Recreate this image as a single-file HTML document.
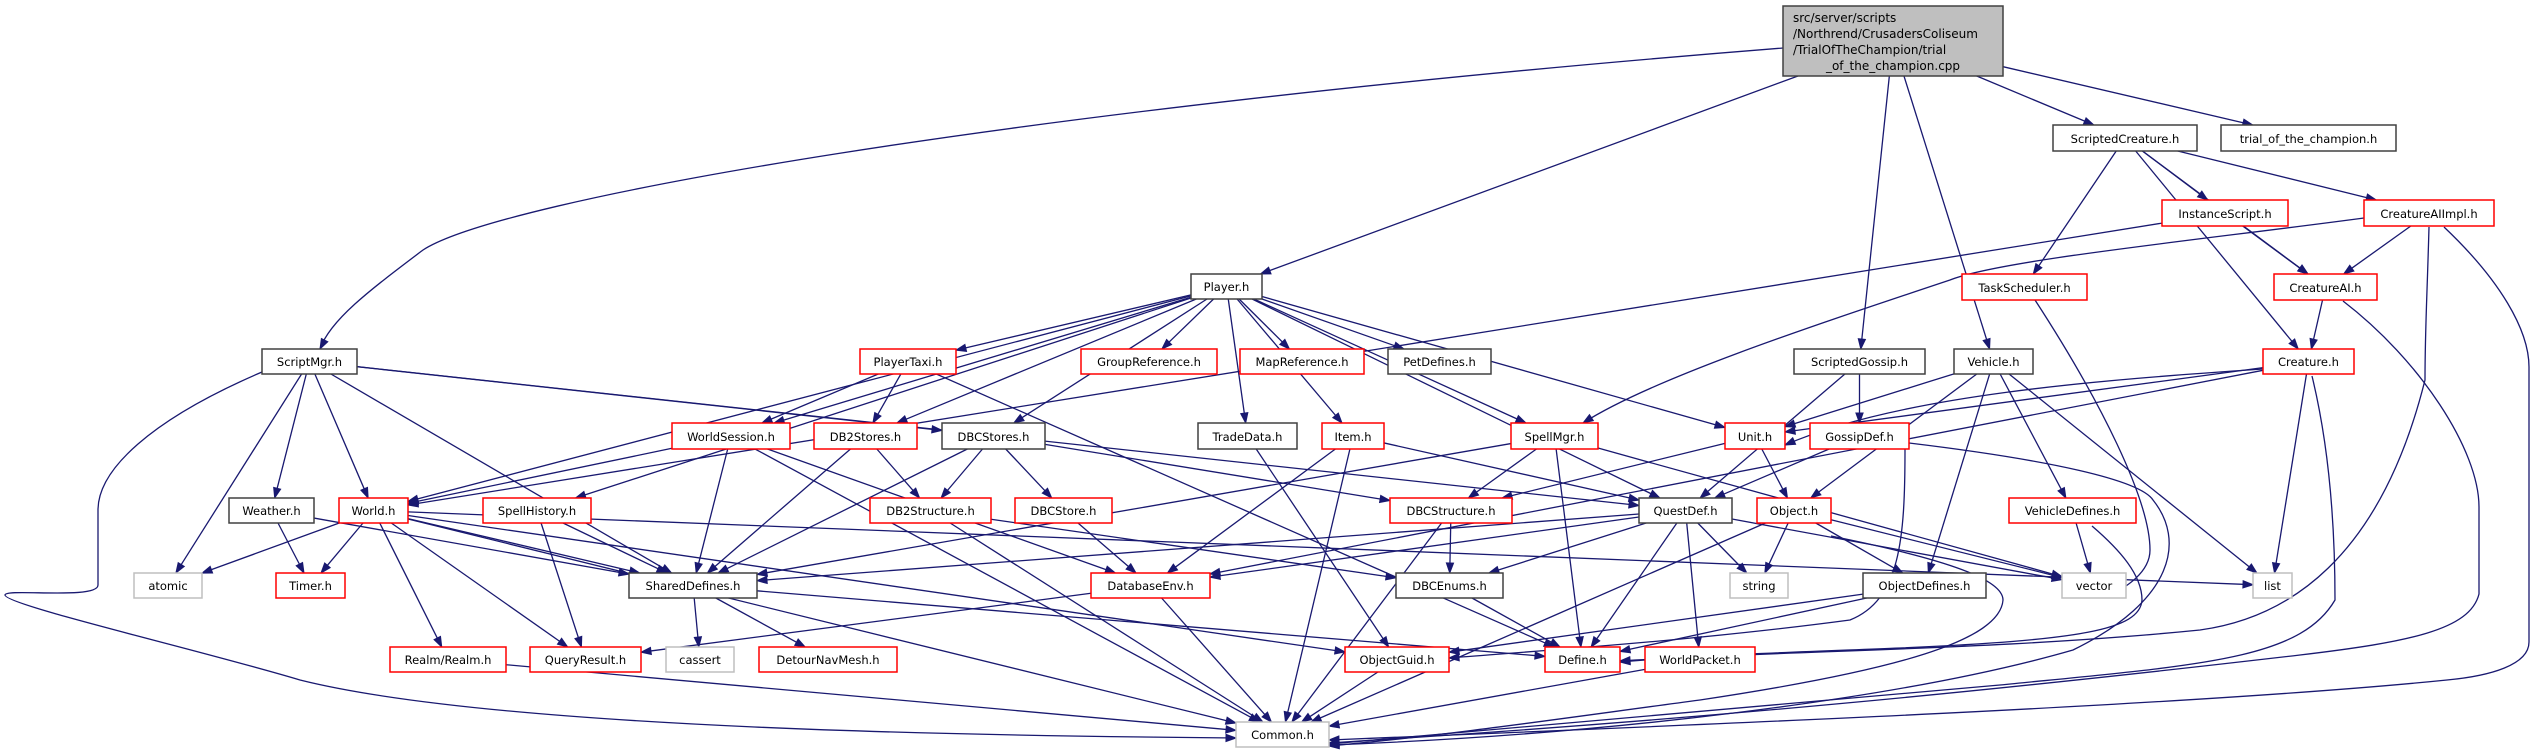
<!DOCTYPE html>
<html><head><meta charset="utf-8">
<style>
html,body{margin:0;padding:0;background:#fff;}
svg{display:block;}
text{font-family:"DejaVu Sans","Liberation Sans",sans-serif;font-size:11.5px;fill:#000;}
</style></head>
<body>
<svg id="g" width="2532" height="753" viewBox="0 0 2532 753" xmlns="http://www.w3.org/2000/svg">
<g id="edges" fill="none" stroke="#191970" stroke-width="1.3"></g>
<g id="arrows" fill="#191970" stroke="#191970" stroke-width="1"></g>
<g id="nodes">
<rect x="1783" y="6" width="220" height="70" fill="#bfbfbf" stroke="#404040" stroke-width="1.5"/>
<text x="1793" y="22" style="font-size:12px">src/server/scripts</text>
<text x="1793" y="38" style="font-size:12px">/Northrend/CrusadersColiseum</text>
<text x="1793" y="54" style="font-size:12px">/TrialOfTheChampion/trial</text>
<text x="1893" y="70" text-anchor="middle" style="font-size:12px">_of_the_champion.cpp</text>
</g>
</svg>
<script>
var N={
root:[1783,2003,6,76,'',''],
ScriptedCreature:[2053,2197,125,151,'ScriptedCreature.h','k'],
trial:[2221,2396,125,151,'trial_of_the_champion.h','k'],
InstanceScript:[2162,2288,200,226,'InstanceScript.h','r'],
CreatureAIImpl:[2364,2494,200,226,'CreatureAIImpl.h','r'],
TaskScheduler:[1962,2087,274,300,'TaskScheduler.h','r'],
CreatureAI:[2274,2377,274,300,'CreatureAI.h','r'],
Player:[1191,1262,274,299,'Player.h','k'],
ScriptMgr:[262,357,349,374,'ScriptMgr.h','k'],
PlayerTaxi:[860,956,349,374,'PlayerTaxi.h','r'],
GroupReference:[1081,1217,349,374,'GroupReference.h','r'],
MapReference:[1240,1364,349,374,'MapReference.h','r'],
PetDefines:[1388,1491,349,374,'PetDefines.h','k'],
ScriptedGossip:[1794,1925,349,374,'ScriptedGossip.h','k'],
Vehicle:[1954,2033,349,374,'Vehicle.h','k'],
Creature:[2263,2354,349,374,'Creature.h','r'],
WorldSession:[672,790,423,449,'WorldSession.h','r'],
DB2Stores:[814,917,423,449,'DB2Stores.h','r'],
DBCStores:[942,1045,423,449,'DBCStores.h','k'],
TradeData:[1198,1297,423,449,'TradeData.h','k'],
Item:[1322,1384,423,449,'Item.h','r'],
SpellMgr:[1511,1598,423,449,'SpellMgr.h','r'],
Unit:[1725,1785,423,449,'Unit.h','r'],
GossipDef:[1810,1909,423,449,'GossipDef.h','r'],
Weather:[229,314,498,523,'Weather.h','k'],
World:[339,408,498,523,'World.h','r'],
SpellHistory:[483,591,498,523,'SpellHistory.h','r'],
DB2Structure:[870,991,498,523,'DB2Structure.h','r'],
DBCStore:[1015,1112,498,523,'DBCStore.h','r'],
DBCStructure:[1390,1512,498,523,'DBCStructure.h','r'],
QuestDef:[1639,1732,498,523,'QuestDef.h','k'],
Object:[1757,1831,498,523,'Object.h','r'],
VehicleDefines:[2009,2136,498,523,'VehicleDefines.h','r'],
atomic:[134,202,573,598,'atomic','g'],
Timer:[276,345,573,598,'Timer.h','r'],
SharedDefines:[629,757,573,598,'SharedDefines.h','k'],
DatabaseEnv:[1091,1210,573,598,'DatabaseEnv.h','r'],
DBCEnums:[1396,1503,573,598,'DBCEnums.h','k'],
string:[1730,1788,573,598,'string','g'],
ObjectDefines:[1863,1986,573,598,'ObjectDefines.h','k'],
vector:[2062,2126,573,598,'vector','g'],
list:[2253,2292,573,598,'list','g'],
Realm:[390,506,647,672,'Realm/Realm.h','r'],
QueryResult:[530,641,647,672,'QueryResult.h','r'],
cassert:[666,734,647,672,'cassert','g'],
DetourNavMesh:[759,897,647,672,'DetourNavMesh.h','r'],
ObjectGuid:[1345,1449,647,672,'ObjectGuid.h','r'],
Define:[1545,1620,647,672,'Define.h','r'],
WorldPacket:[1645,1755,647,672,'WorldPacket.h','r'],
Common:[1236,1329,722,747,'Common.h','g']
};
var E=[
['root','Player'],['root','ScriptedGossip'],['root','Vehicle'],['root','ScriptedCreature'],['root','trial'],
['ScriptedCreature','InstanceScript'],['ScriptedCreature','CreatureAIImpl'],['ScriptedCreature','CreatureAI'],['ScriptedCreature','TaskScheduler'],['ScriptedCreature','Creature'],
['InstanceScript','CreatureAI'],['InstanceScript','World'],['CreatureAIImpl','CreatureAI'],
['CreatureAI','Creature'],['Creature','Unit'],['Creature','list'],['Creature','DatabaseEnv'],
['Vehicle','Unit'],['Vehicle','Object'],['Vehicle','ObjectDefines'],['Vehicle','VehicleDefines'],['Vehicle','list'],
['VehicleDefines','vector'],['ScriptedGossip','GossipDef'],['ScriptedGossip','QuestDef'],['GossipDef','QuestDef'],
['Unit','Object'],['Unit','DBCStructure'],['Object','string'],['Object','ObjectDefines'],['Object','vector'],
['QuestDef','SharedDefines'],['QuestDef','DatabaseEnv'],['QuestDef','DBCEnums'],['QuestDef','string'],['QuestDef','Define'],['QuestDef','WorldPacket'],['QuestDef','vector'],
['ObjectDefines','ObjectGuid'],['ObjectDefines','Define'],['WorldPacket','Common'],['ObjectGuid','Common'],['DBCEnums','Define'],
['DBCStructure','DBCEnums'],['DBCStructure','Common'],['DatabaseEnv','Common'],['DatabaseEnv','QueryResult'],
['SharedDefines','cassert'],['SharedDefines','DetourNavMesh'],['SharedDefines','Define'],
['Player','PlayerTaxi'],['Player','GroupReference'],['Player','MapReference'],['Player','PetDefines'],['Player','DB2Stores'],['Player','DBCStores'],['Player','TradeData'],['Player','Item'],['Player','SpellMgr'],['Player','QuestDef'],['Player','Unit'],['Player','WorldSession'],['Player','World'],['Player','SpellHistory'],
['PlayerTaxi','DB2Stores'],['PlayerTaxi','WorldSession'],['PlayerTaxi','Define'],
['WorldSession','World'],['WorldSession','SharedDefines'],['WorldSession','DatabaseEnv'],['WorldSession','Common'],
['DB2Stores','DB2Structure'],['DB2Stores','SharedDefines'],['DBCStores','DB2Structure'],['DBCStores','DBCStore'],['DBCStores','DBCStructure'],['DBCStores','SharedDefines'],
['DB2Structure','Common'],['DB2Structure','DBCEnums'],['DBCStore','DatabaseEnv'],['TradeData','ObjectGuid'],
['Item','DatabaseEnv'],['Item','Common'],['Item','QuestDef'],
['SpellMgr','DBCStructure'],['SpellMgr','Define'],['SpellMgr','SharedDefines'],['SpellMgr','vector'],
['SpellHistory','SharedDefines'],['SpellHistory','QueryResult'],
['World','atomic'],['World','Timer'],['World','SharedDefines'],['World','Realm'],['World','QueryResult'],['World','ObjectGuid'],['World','list'],['World','Common'],
['Weather','Timer'],['Weather','SharedDefines'],
['ScriptMgr','atomic'],['ScriptMgr','Weather'],['ScriptMgr','World'],['ScriptMgr','SharedDefines'],['ScriptMgr','DBCStores'],['ScriptMgr','QuestDef'],
['Realm','Common'],['Object','Common']
];
var P=[
['M1783,48 C1000,110 500,200 423,250 C370,290 330,320 320,349',[335,320]],
['M262,372 C150,420 98,470 98,510 L98,585 C98,600 5,588 5,595 C5,605 200,650 300,680 C500,730 1000,736 1236,738',[1000,736]],
['M2444,227 C2500,280 2529,330 2529,367 L2529,642 C2529,665 2490,676 2447,680 C2200,705 1700,725 1329,740',[1700,725]],
['M2429,227 C2427,300 2425,330 2425,380 C2380,560 2287,618 2200,630 C2000,650 1800,650 1620,661',[1800,650]],
['M2343,301 C2420,360 2479,450 2479,507 L2479,594 C2470,630 2409,642 2300,655 C2000,690 1700,720 1329,743',[1700,720]],
['M2312,376 C2330,450 2335,530 2335,600 C2300,660 2200,665 2000,685 C1700,710 1500,730 1329,744',[1500,730]],
['M1909,443 C2050,460 2140,480 2153,500 C2185,540 2175,600 2073,650 C1900,700 1600,735 1329,745',[1600,735]],
['M1831,536 C1950,560 2003,580 2003,600 C2000,640 1900,670 1700,700 C1550,720 1450,735 1329,746',[1450,735]],
['M2092,526 C2120,550 2142,575 2142,600 C2140,630 2080,640 1900,648 C1800,652 1700,655 1620,662',[1700,655]],
['M2035,300 C2100,400 2150,500 2150,550 C2150,575 2120,590 2108,597',[2125,585]],
['M1905,449 C1905,540 1900,600 1850,620 C1700,640 1550,650 1449,658',[1550,650]],
['M2364,218 C2200,240 2000,260 1950,280 C1800,330 1650,380 1583,423',[1650,380]],
['M2263,369 C2100,380 1900,395 1785,445',[1900,395]]
];
var NS='http://www.w3.org/2000/svg',eg=document.getElementById('edges'),ag=document.getElementById('arrows'),ng=document.getElementById('nodes');
function bp(b,dx,dy){var cx=(b[0]+b[1])/2,cy=(b[2]+b[3])/2,hw=(b[1]-b[0])/2,hh=(b[3]-b[2])/2;var t=Math.min(dx?hw/Math.abs(dx):1e9,dy?hh/Math.abs(dy):1e9);return [cx+dx*t,cy+dy*t];}
function arrow(x,y,px,py){var dx=x-px,dy=y-py,l=Math.hypot(dx,dy)||1;dx/=l;dy/=l;var bx=x-dx*10,by=y-dy*10;var p=document.createElementNS(NS,'polygon');p.setAttribute('points',x+','+y+' '+(bx-dy*3.6)+','+(by+dx*3.6)+' '+(bx+dy*3.6)+','+(by-dx*3.6));ag.appendChild(p);return [bx,by];}
E.forEach(function(e){var s=N[e[0]],t=N[e[1]];var sx=(s[0]+s[1])/2,sy=(s[2]+s[3])/2,tx=(t[0]+t[1])/2,ty=(t[2]+t[3])/2;var a=bp(s,tx-sx,ty-sy),b=bp(t,sx-tx,sy-ty);var bb=arrow(b[0],b[1],a[0],a[1]);var p=document.createElementNS(NS,'path');p.setAttribute('d','M'+a[0]+','+a[1]+' L'+bb[0]+','+bb[1]);eg.appendChild(p);});
P.forEach(function(q){var d=q[0];var m=d.match(/(-?[\d.]+),(-?[\d.]+)\s*$/);var ex=+m[1],ey=+m[2];arrow(ex,ey,q[1][0],q[1][1]);var p=document.createElementNS(NS,'path');p.setAttribute('d',d);eg.appendChild(p);});
</script>
<svg width="0" height="0" style="position:absolute;left:0;top:0" xmlns="http://www.w3.org/2000/svg">
<text id="t_ScriptedCreature" text-anchor="middle">ScriptedCreature.h</text>
<text id="t_trial" text-anchor="middle">trial_of_the_champion.h</text>
<text id="t_InstanceScript" text-anchor="middle">InstanceScript.h</text>
<text id="t_CreatureAIImpl" text-anchor="middle">CreatureAIImpl.h</text>
<text id="t_TaskScheduler" text-anchor="middle">TaskScheduler.h</text>
<text id="t_CreatureAI" text-anchor="middle">CreatureAI.h</text>
<text id="t_Player" text-anchor="middle">Player.h</text>
<text id="t_ScriptMgr" text-anchor="middle">ScriptMgr.h</text>
<text id="t_PlayerTaxi" text-anchor="middle">PlayerTaxi.h</text>
<text id="t_GroupReference" text-anchor="middle">GroupReference.h</text>
<text id="t_MapReference" text-anchor="middle">MapReference.h</text>
<text id="t_PetDefines" text-anchor="middle">PetDefines.h</text>
<text id="t_ScriptedGossip" text-anchor="middle">ScriptedGossip.h</text>
<text id="t_Vehicle" text-anchor="middle">Vehicle.h</text>
<text id="t_Creature" text-anchor="middle">Creature.h</text>
<text id="t_WorldSession" text-anchor="middle">WorldSession.h</text>
<text id="t_DB2Stores" text-anchor="middle">DB2Stores.h</text>
<text id="t_DBCStores" text-anchor="middle">DBCStores.h</text>
<text id="t_TradeData" text-anchor="middle">TradeData.h</text>
<text id="t_Item" text-anchor="middle">Item.h</text>
<text id="t_SpellMgr" text-anchor="middle">SpellMgr.h</text>
<text id="t_Unit" text-anchor="middle">Unit.h</text>
<text id="t_GossipDef" text-anchor="middle">GossipDef.h</text>
<text id="t_Weather" text-anchor="middle">Weather.h</text>
<text id="t_World" text-anchor="middle">World.h</text>
<text id="t_SpellHistory" text-anchor="middle">SpellHistory.h</text>
<text id="t_DB2Structure" text-anchor="middle">DB2Structure.h</text>
<text id="t_DBCStore" text-anchor="middle">DBCStore.h</text>
<text id="t_DBCStructure" text-anchor="middle">DBCStructure.h</text>
<text id="t_QuestDef" text-anchor="middle">QuestDef.h</text>
<text id="t_Object" text-anchor="middle">Object.h</text>
<text id="t_VehicleDefines" text-anchor="middle">VehicleDefines.h</text>
<text id="t_atomic" text-anchor="middle">atomic</text>
<text id="t_Timer" text-anchor="middle">Timer.h</text>
<text id="t_SharedDefines" text-anchor="middle">SharedDefines.h</text>
<text id="t_DatabaseEnv" text-anchor="middle">DatabaseEnv.h</text>
<text id="t_DBCEnums" text-anchor="middle">DBCEnums.h</text>
<text id="t_string" text-anchor="middle">string</text>
<text id="t_ObjectDefines" text-anchor="middle">ObjectDefines.h</text>
<text id="t_vector" text-anchor="middle">vector</text>
<text id="t_list" text-anchor="middle">list</text>
<text id="t_Realm" text-anchor="middle">Realm/Realm.h</text>
<text id="t_QueryResult" text-anchor="middle">QueryResult.h</text>
<text id="t_cassert" text-anchor="middle">cassert</text>
<text id="t_DetourNavMesh" text-anchor="middle">DetourNavMesh.h</text>
<text id="t_ObjectGuid" text-anchor="middle">ObjectGuid.h</text>
<text id="t_Define" text-anchor="middle">Define.h</text>
<text id="t_WorldPacket" text-anchor="middle">WorldPacket.h</text>
<text id="t_Common" text-anchor="middle">Common.h</text>
</svg>
<script>
(function(){var NS='http://www.w3.org/2000/svg',ng=document.getElementById('nodes');
var c={k:'#404040',r:'#ff0000',g:'#bfbfbf'};
for(var k in N){if(k==='root')continue;var b=N[k];
var r=document.createElementNS(NS,'rect');r.setAttribute('x',b[0]);r.setAttribute('y',b[2]);r.setAttribute('width',b[1]-b[0]);r.setAttribute('height',b[3]-b[2]);r.setAttribute('fill','#fff');r.setAttribute('stroke',c[b[5]]);r.setAttribute('stroke-width','1.5');ng.appendChild(r);
var t=document.getElementById('t_'+k);if(t){t.setAttribute('x',(b[0]+b[1])/2);t.setAttribute('y',b[3]-8);ng.appendChild(t);}}
})();
</script>
</body></html>
